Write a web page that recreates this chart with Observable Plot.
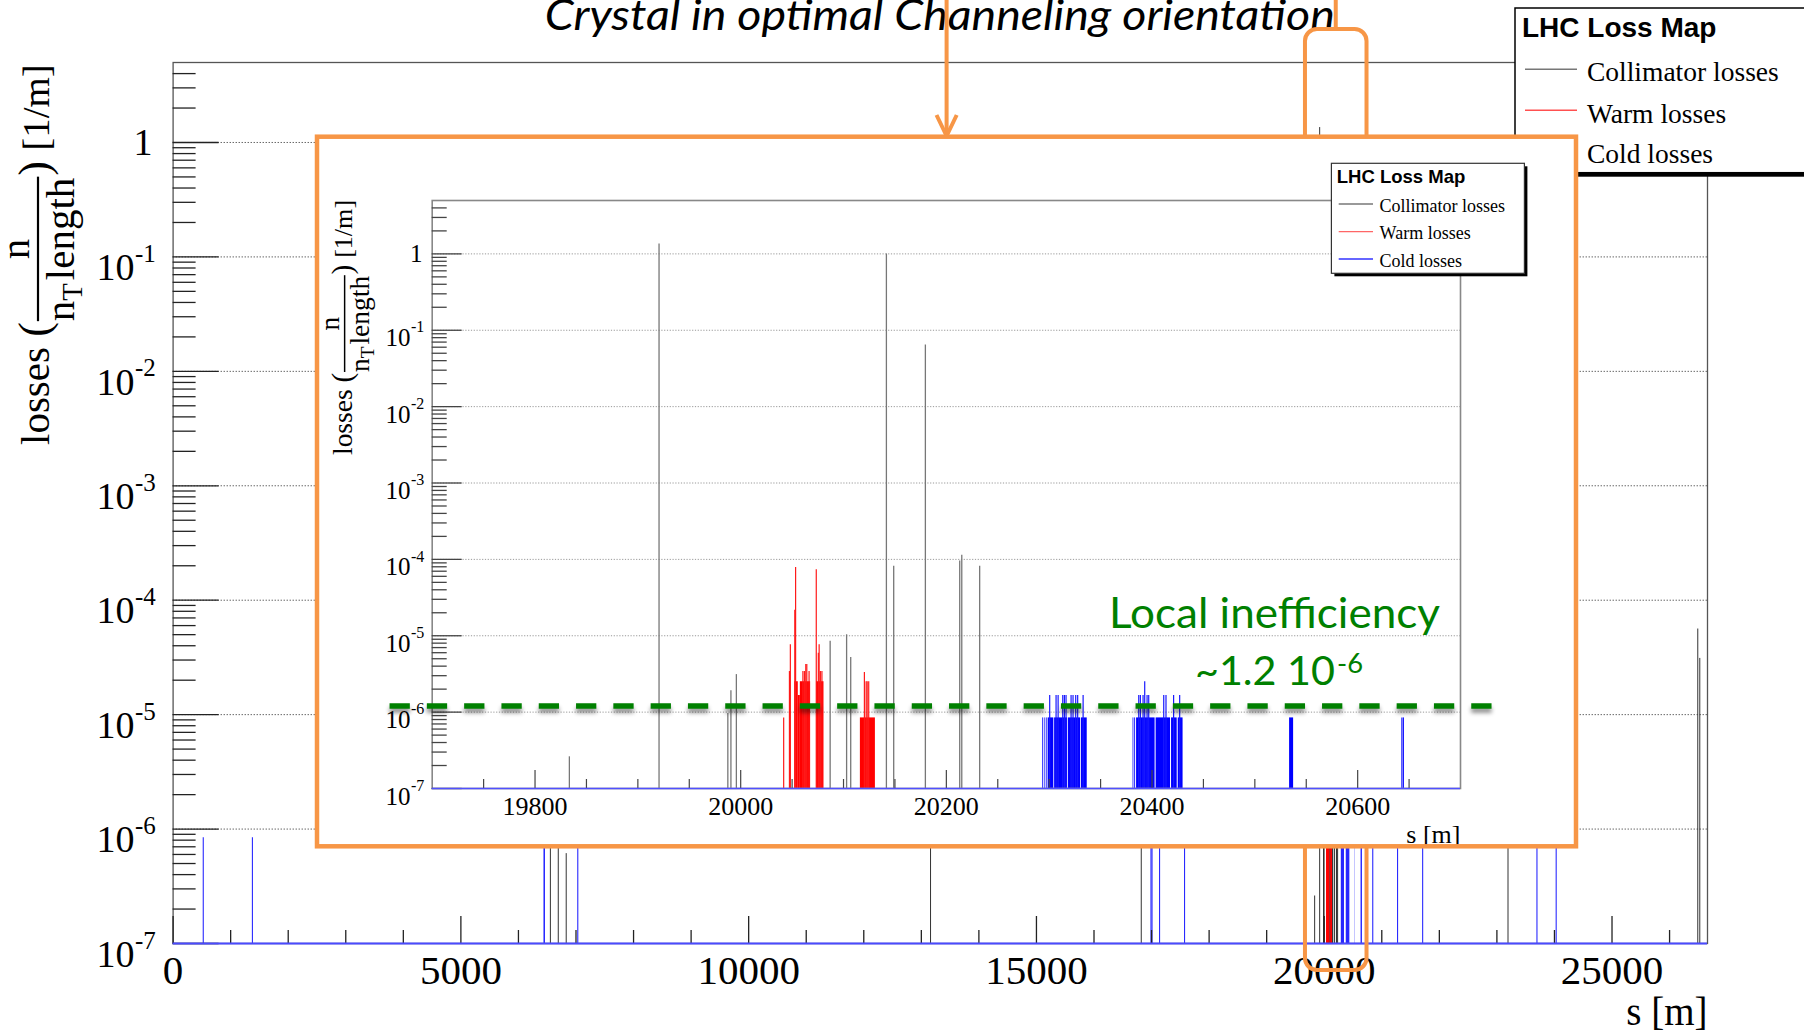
<!DOCTYPE html>
<html><head><meta charset="utf-8">
<script src="https://cdn.jsdelivr.net/npm/d3@7"></script>
<script src="https://cdn.jsdelivr.net/npm/@observablehq/plot@0.6"></script>
<style>
html,body{margin:0;padding:0;background:#fff;overflow:hidden;}
#page{position:relative;width:1804px;height:1034px;overflow:hidden;background:#fff;}
</style></head><body><div id="page"></div>
<script>
// ---------------- data ----------------
const yMin = 1e-7, yMax = 5;
const ringLength = 26659;
const insetDomain = [19700, 20700];

// Collimator losses (position s [m], value [1/m])
const collS = [6555, 6692, 6830, 13160, 16821, 19833.4, 19920.6, 19987.5, 19990.5, 19995.8, 20087, 20103, 20107, 20141.7, 20148.8, 20179.6, 20213, 20215, 20232.4, 23193, 26490, 26525];
const collV = [2e-4, 3e-5, 6.1e-7, 5e-4, 1e-4, 2.6e-7, 1.35, 9.6e-7, 1.9e-6, 3.1e-6, 8.5e-6, 1.03e-5, 5.2e-6, 1.0, 8.1e-5, 0.064, 9.5e-5, 1.13e-4, 8.1e-5, 2e-5, 5.6e-5, 3.1e-5];

// Warm losses: single bins and dense groups of bins
const warmS = [20041.8, 20047.4, 20048.3, 20052.6, 20053.4, 20060.5, 20062, 20063.3, 20064.3, 20066.5, 20073.5, 20075.5, 20076.3, 20077.5, 20079, 20120.3, 20122, 20123, 20124.5];
const warmV = [8.4e-7, 3.4e-6, 7.6e-6, 2.15e-5, 7.8e-5, 3.4e-6, 3.4e-6, 4.2e-6, 4.2e-6, 3.4e-6, 7.3e-5, 5.9e-6, 7.6e-6, 3.4e-6, 3.4e-6, 3.3e-6, 2.5e-6, 2.5e-6, 2.5e-6];
const warmGroupFrom = [20052.6, 20056, 20058, 20073.7, 20116.4];
const warmGroupTo   = [20056, 20058, 20068, 20081, 20131];
const warmGroupV    = [2.5e-6, 1.65e-6, 2.5e-6, 2.5e-6, 8.4e-7];

// Cold losses
const coldS = [524, 1378, 6445, 6452, 7031, 16990, 17008, 17139, 17573,
  20300.5, 20306.7, 20308.7, 20313.2, 20314.8, 20316.4, 20321.3, 20323.2, 20325.8, 20327.7, 20333,
  20387.1, 20388.7, 20391.3, 20392.9, 20395.2, 20396.8, 20411.4, 20413.6, 20421, 20426.9,
  20643, 20644.5, 20727, 20843, 21274, 21710, 23696, 24030];
const coldV = [8.4e-7, 8.4e-7, 1.7e-6, 1.7e-6, 8.4e-7, 1.7e-6, 1.7e-6, 8.4e-7, 8.4e-7,
  1.65e-6, 1.65e-6, 1.65e-6, 1.65e-6, 1.65e-6, 1.65e-6, 1.65e-6, 1.65e-6, 1.65e-6, 1.65e-6, 1.65e-6,
  1.65e-6, 1.65e-6, 1.65e-6, 2.5e-6, 1.65e-6, 1.65e-6, 1.65e-6, 1.65e-6, 1.65e-6, 1.65e-6,
  8.4e-7, 8.4e-7, 8.4e-7, 8.4e-7, 8.4e-7, 8.4e-7, 8.4e-7, 8.4e-7];
const coldGroupFrom = [20293.5, 20295.3, 20297.2, 20299, 20305.3, 20318.8, 20331.3, 20381.6, 20383.2, 20385, 20404, 20419, 20425.5, 20533.8];
const coldGroupTo   = [20294.2, 20296, 20298, 20304.5, 20318, 20330.5, 20337, 20382.3, 20384, 20403, 20418, 20424.5, 20430.2, 20537.7];
const coldGroupV    = [8.4e-7, 8.4e-7, 8.4e-7, 8.4e-7, 8.4e-7, 8.4e-7, 8.4e-7, 8.4e-7, 8.4e-7, 8.4e-7, 8.4e-7, 8.4e-7, 8.4e-7, 8.4e-7];

const inefficiency = 1.2e-6;
const ineffFrom = 19659, ineffTo = 20732;

// ticks & labels
const mainXLabels = [0, 5000, 10000, 15000, 20000, 25000];
const mainXMinor = [1000,2000,3000,4000,6000,7000,8000,9000,11000,12000,13000,14000,16000,17000,18000,19000,21000,22000,23000,24000,26000];
const insetXLabels = [19800, 20000, 20200, 20400, 20600];
const insetXMinor = [19750,19850,19900,19950,20050,20100,20150,20250,20300,20350,20450,20500,20550,20650];
const decades = [1e-7, 1e-6, 1e-5, 1e-4, 1e-3, 1e-2, 1e-1, 1];
const expDecades = [1e-7, 1e-6, 1e-5, 1e-4, 1e-3, 1e-2, 1e-1];
const expLabels = ["-7", "-6", "-5", "-4", "-3", "-2", "-1"];
const yMinor = [];
for (const d of decades) for (const k of [2,3,4,5,6,7,8,9]) { const v = k*d; if (v < 4.5) yMinor.push(v); }

const seriesNames = ["Collimator losses", "Warm losses", "Cold losses"];
const legendTitle = "LHC Loss Map";
const titleText = "Crystal in optimal Channeling orientation";
const ineffLine1 = "Local inefficiency";
const ineffLine2 = "~1.2 10";
const ineffExp = "-6";

// tables
const coll = collS.map((s, i) => ({s, v: collV[i]}));
const warm = warmS.map((s, i) => ({s, v: warmV[i]}));
const cold = coldS.map((s, i) => ({s, v: coldV[i]}));
const warmG = warmGroupFrom.map((a, i) => ({a, b: warmGroupTo[i], v: warmGroupV[i]}));
const coldG = coldGroupFrom.map((a, i) => ({a, b: coldGroupTo[i], v: coldGroupV[i]}));

// ---------------- styles ----------------
const SERIF = "'Liberation Serif','Times New Roman',serif";
const SANS = "'Liberation Sans',Arial,sans-serif";
const CAL = "Lato,'Open Sans',sans-serif";
const ORANGE = "#F79646";
const GREEN = "#008000";

const page = document.getElementById("page");
function place(el, x, y, z) {
  el.style.position = "absolute"; el.style.left = x + "px"; el.style.top = y + "px";
  if (z != null) el.style.zIndex = z;
  page.appendChild(el);
}

function yTickLabels(opt) {
  return [
    Plot.text([1], {y: d => d, text: () => "1", frameAnchor: "left", textAnchor: "end", lineAnchor: "middle", dx: opt.oneDx, fontSize: opt.fs, fontFamily: SERIF, fill: "#000"}),
    Plot.text(expDecades, {y: d => d, text: () => "10", frameAnchor: "left", textAnchor: "end", lineAnchor: "middle", dx: opt.tenDx, dy: opt.tenDy, fontSize: opt.fs, fontFamily: SERIF, fill: "#000"}),
    Plot.text(expDecades, {y: d => d, text: (d, i) => expLabels[i], frameAnchor: "left", textAnchor: "start", lineAnchor: "middle", dx: opt.tenDx + 0.5, dy: opt.expDy, fontSize: opt.efs, fontFamily: SERIF, fill: "#000"})
  ];
}

// ---------------- main chart ----------------
const W = 1804, H = 1034, mL = 172.6, mR = 97, mT = 62, mB = 91;
const fW = W - mL - mR, fH = H - mT - mB;
const mainPlot = Plot.plot({
  width: W, height: H, marginLeft: mL, marginRight: mR, marginTop: mT, marginBottom: mB,
  style: {background: "white"},
  x: {domain: [0, ringLength], axis: null},
  y: {type: "log", domain: [yMin, yMax], axis: null},
  marks: [
    Plot.ruleY(decades, {stroke: "#555", strokeWidth: 1, strokeDasharray: "1.3,1.7"}),
    Plot.ruleX(coll, {x: "s", y1: () => yMin, y2: "v", stroke: "#333", strokeWidth: 1}),
    Plot.rect(warmG, {x1: "a", x2: "b", y1: () => yMin, y2: "v", fill: "#ff0000"}),
    Plot.ruleX(warm, {x: "s", y1: () => yMin, y2: "v", stroke: "#ff0000", strokeWidth: 1}),
    Plot.rect(coldG, {x1: "a", x2: "b", y1: () => yMin, y2: "v", fill: "#0000ff"}),
    Plot.ruleX(cold, {x: "s", y1: () => yMin, y2: "v", stroke: "#2a2aff", strokeWidth: 1.1}),
    Plot.frame({stroke: "#555", strokeWidth: 1.3}),
    Plot.ruleY(decades, {stroke: "#222", strokeWidth: 1.3, insetRight: fW - 46}),
    Plot.ruleY(yMinor, {stroke: "#222", strokeWidth: 1.3, insetRight: fW - 23}),
    Plot.ruleX(mainXLabels, {stroke: "#222", strokeWidth: 1.3, insetTop: fH - 27}),
    Plot.ruleX(mainXMinor, {stroke: "#222", strokeWidth: 1.3, insetTop: fH - 13}),
    Plot.ruleY([yMin], {stroke: "#4a4aff", strokeWidth: 1.8}),
    Plot.axisX({ticks: mainXLabels, tickSize: 0, tickPadding: 11, fontSize: 41, fontFamily: SERIF, tickFormat: d => String(d), label: null, fill: "#000"}),
    ...yTickLabels({oneDx: -20.6, tenDx: -38.6, tenDy: 11, expDy: -3, fs: 38, efs: 25}),
    Plot.text(["s [m]"], {text: d => d, frameAnchor: "bottom-right", textAnchor: "end", lineAnchor: "middle", dy: 69, fontSize: 39, fontFamily: SERIF, fill: "#000"})
  ]
});
place(mainPlot, 0, 0, 1);
const xMain = mainPlot.scale("x");

// ---------------- overlay under the inset ----------------
const under = d3.create("svg").attr("width", W).attr("height", H).style("overflow", "visible");
place(under.node(), 0, 0, 2);

function yLabel(sel, x0, y0, s) {
  const fs = 41 * s;
  const gap = 0.25 * fs;
  const g = sel.append("g").attr("transform", `translate(${x0},${y0}) rotate(-90)`)
    .attr("font-family", SERIF).attr("fill", "#000").attr("text-anchor", "start").style("white-space", "normal");
  const put = (txt, x, y, size) => g.append("text").attr("x", x).attr("y", y).attr("font-size", size).attr("text-anchor", "start").text(txt);
  let u = 0;
  u += put("losses", 0, 0, fs).node().getComputedTextLength() + gap;
  u += put("(", u, 0, fs * 1.07).node().getComputedTextLength() + 1 * s;
  const d0 = u;
  let du = u + put("n", u, 25 * s, fs).node().getComputedTextLength();
  du += put("T", du, 33 * s, fs * 0.7).node().getComputedTextLength() + 3 * s;
  du += put("length", du, 25 * s, fs).node().getComputedTextLength() + 1 * s;
  g.append("line").attr("x1", d0).attr("x2", du).attr("y1", -11 * s).attr("y2", -11 * s)
    .attr("stroke", "#000").attr("stroke-width", 2.2 * s);
  g.append("text").attr("x", (d0 + du) / 2).attr("y", -20 * s).attr("text-anchor", "middle").attr("font-size", fs).text("n");
  u = du + 1 * s;
  u += put(")", u, 0, fs * 1.07).node().getComputedTextLength() + gap;
  put("[1/m]", u, 0, fs * 0.95);
}
yLabel(under, 49, 445, 1);

// main legend
const lg = under.append("g");
lg.append("rect").attr("x", 1519).attr("y", 12).attr("width", 400).attr("height", 164.7).attr("fill", "#000");
lg.append("rect").attr("x", 1515).attr("y", 8).attr("width", 400).attr("height", 164.7).attr("fill", "#fff").attr("stroke", "#000").attr("stroke-width", 1.5);
lg.append("text").attr("x", 1522).attr("y", 36.7).attr("font-family", SANS).attr("font-weight", "bold").attr("font-size", 28).text(legendTitle);
const mainLegY = [69.3, 110.3, 151];
const mainLegT = [81, 122.7, 163.3];
const legColors = ["#777", "#ff5050", "#5050ff"];
seriesNames.forEach((n, i) => {
  lg.append("line").attr("x1", 1525).attr("x2", 1577).attr("y1", mainLegY[i]).attr("y2", mainLegY[i]).attr("stroke", legColors[i]).attr("stroke-width", 1.6);
  lg.append("text").attr("x", 1587).attr("y", mainLegT[i]).attr("font-family", SERIF).attr("font-size", 27.5).text(n);
});

// title
under.append("text").attr("x", 544.8).attr("y", 30).attr("font-family", CAL).attr("font-style", "italic")
  .attr("font-size", 42).attr("textLength", 790).attr("lengthAdjust", "spacingAndGlyphs").attr("fill", "#000").text(titleText);

// orange annotations
const rx0 = xMain.apply(insetDomain[0]) - 1.5, rx1 = xMain.apply(insetDomain[1]) + 2.5;
under.append("rect").attr("x", rx0).attr("y", 29).attr("width", rx1 - rx0).attr("height", 941).attr("rx", 12)
  .attr("fill", "none").attr("stroke", ORANGE).attr("stroke-width", 4);
under.append("line").attr("x1", (rx0 + rx1) / 2).attr("x2", (rx0 + rx1) / 2).attr("y1", -2).attr("y2", 29).attr("stroke", ORANGE).attr("stroke-width", 4);
under.append("line").attr("x1", 946.6).attr("x2", 946.6).attr("y1", -2).attr("y2", 134).attr("stroke", ORANGE).attr("stroke-width", 4);
under.append("polyline").attr("points", "936.5,115 946.6,136 956.7,115").attr("fill", "none").attr("stroke", ORANGE).attr("stroke-width", 4).attr("stroke-linejoin", "miter");

// ---------------- inset chart ----------------
const iX = 317, iY = 137;
const iW = 1259, iH = 710, iL = 114.7, iR = 116, iT = 63, iB = 59;
const ifW = iW - iL - iR, ifH = iH - iT - iB;
const inR = d => d.s >= insetDomain[0] && d.s <= insetDomain[1];
const inG = d => d.b >= insetDomain[0] && d.a <= insetDomain[1];
const insetPlot = Plot.plot({
  width: iW, height: iH, marginLeft: iL, marginRight: iR, marginTop: iT, marginBottom: iB,
  style: {background: "white"},
  x: {domain: insetDomain, axis: null},
  y: {type: "log", domain: [yMin, yMax], axis: null},
  marks: [
    Plot.ruleY(decades, {stroke: "#999", strokeWidth: 1, strokeDasharray: "1.2,1.6"}),
    Plot.ruleX(coll.filter(inR), {x: "s", y1: () => yMin, y2: "v", stroke: "#777", strokeWidth: 1.3}),
    Plot.rect(warmG.filter(inG), {x1: "a", x2: "b", y1: () => yMin, y2: "v", fill: "#ff0000"}),
    Plot.ruleX(warm.filter(inR), {x: "s", y1: () => yMin, y2: "v", stroke: "#ff1a1a", strokeWidth: 1.2}),
    Plot.rect(coldG.filter(inG), {x1: "a", x2: "b", y1: () => yMin, y2: "v", fill: "#0000ff"}),
    Plot.ruleX(cold.filter(inR), {x: "s", y1: () => yMin, y2: "v", stroke: "#1a1aff", strokeWidth: 1.2}),
    Plot.frame({stroke: "#888", strokeWidth: 1.6}),
    Plot.ruleY(decades, {stroke: "#444", strokeWidth: 1.3, insetRight: ifW - 30}),
    Plot.ruleY(yMinor, {stroke: "#444", strokeWidth: 1.3, insetRight: ifW - 15}),
    Plot.ruleX(insetXLabels, {stroke: "#444", strokeWidth: 1.2, insetTop: ifH - 18}),
    Plot.ruleX(insetXMinor, {stroke: "#444", strokeWidth: 1.2, insetTop: ifH - 9}),
    Plot.ruleY([yMin], {stroke: "#5050ff", strokeWidth: 1.6}),
    Plot.axisX({ticks: insetXLabels, tickSize: 0, tickPadding: 8.5, fontSize: 26, fontFamily: SERIF, tickFormat: d => String(d), label: null, fill: "#000"}),
    ...yTickLabels({oneDx: -9.7, tenDx: -21.7, tenDy: 8, expDy: -3, fs: 25, efs: 16}),
    Plot.text(["s [m]"], {text: d => d, frameAnchor: "bottom-right", textAnchor: "end", lineAnchor: "middle", dy: 46.5, fontSize: 26, fontFamily: SERIF, fill: "#000"}),
    Plot.ruleY([inefficiency], {x1: () => ineffFrom, x2: () => ineffTo, stroke: GREEN, strokeWidth: 5.5, strokeDasharray: "20.3,17"})
  ]
});
place(insetPlot, iX, iY, 3);
insetPlot.lastElementChild.style.filter = "drop-shadow(0px 4px 2px rgba(0,0,0,0.45))";
yLabel(d3.select(insetPlot), 352 - iX, 455 - iY, 0.67);

// ---------------- overlay above the inset ----------------
const over = d3.create("svg").attr("width", W).attr("height", H).style("overflow", "visible");
place(over.node(), 0, 0, 4);
over.append("rect").attr("x", 317).attr("y", 136.7).attr("width", 1259).attr("height", 709.6)
  .attr("fill", "none").attr("stroke", ORANGE).attr("stroke-width", 4.5);

// inset legend
const il = over.append("g");
il.append("rect").attr("x", 1334.4).attr("y", 166.3).attr("width", 193).attr("height", 110).attr("fill", "#000");
il.append("rect").attr("x", 1331.4).attr("y", 163.3).attr("width", 193).attr("height", 110).attr("fill", "#fff").attr("stroke", "#333").attr("stroke-width", 1.2);
il.append("text").attr("x", 1336.8).attr("y", 183.3).attr("font-family", SANS).attr("font-weight", "bold").attr("font-size", 18.5).text(legendTitle);
const inLegY = [204, 231.7, 259];
const inLegT = [211.7, 239.3, 266.7];
const inLegColors = ["#777", "#ff6666", "#3333ff"];
seriesNames.forEach((n, i) => {
  il.append("line").attr("x1", 1338.7).attr("x2", 1373).attr("y1", inLegY[i]).attr("y2", inLegY[i]).attr("stroke", inLegColors[i]).attr("stroke-width", 1.3);
  il.append("text").attr("x", 1379.6).attr("y", inLegT[i]).attr("font-family", SERIF).attr("font-size", 18).text(n);
});

// green annotation
over.append("text").attr("x", 1109).attr("y", 628).attr("font-family", CAL).attr("font-size", 42)
  .attr("textLength", 331).attr("lengthAdjust", "spacingAndGlyphs").attr("fill", GREEN).text(ineffLine1);
over.append("text").attr("x", 1195).attr("y", 685).attr("font-family", CAL).attr("font-size", 40)
  .attr("textLength", 140).attr("lengthAdjust", "spacingAndGlyphs").attr("fill", GREEN).text(ineffLine2);
over.append("text").attr("x", 1337).attr("y", 672.5).attr("font-family", CAL).attr("font-size", 27)
  .attr("textLength", 26).attr("lengthAdjust", "spacingAndGlyphs").attr("fill", GREEN).text(ineffExp);
</script></body></html>
